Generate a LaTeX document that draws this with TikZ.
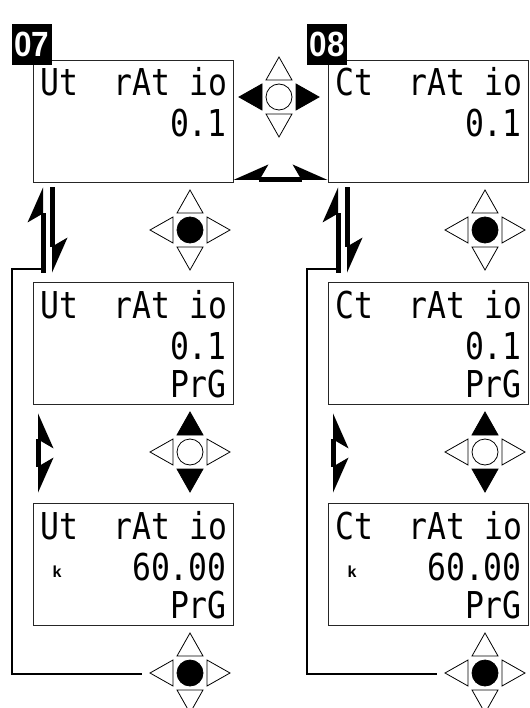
\documentclass[tikz,border=0pt]{standalone}
\usepackage{fontspec}
\setmainfont{Liberation Sans}
\newfontfamily\lcdfont[FakeStretch=0.85]{DejaVu Sans Mono}
\newfontfamily\tagfont[FakeStretch=0.9]{Liberation Sans}
\usetikzlibrary{arrows.meta}

% keypad: name, x, y, up/down fill, left/right fill, centre fill
\newcommand{\keypad}[6]{%
  \node[keyring, fill=#6] (#1) at (#2,#3) {};
  \draw[keytri, fill=#4] (#2-13,#3-17) -- (#2+13,#3-17) -- (#2,#3-40) -- cycle;
  \draw[keytri, fill=#4] (#2-13,#3+17) -- (#2+13,#3+17) -- (#2,#3+40) -- cycle;
  \draw[keytri, fill=#5] (#2-17,#3-13) -- (#2-17,#3+13) -- (#2-40,#3) -- cycle;
  \draw[keytri, fill=#5] (#2+17,#3-13) -- (#2+17,#3+13) -- (#2+40,#3) -- cycle;
}

\begin{document}
\begin{tikzpicture}[x=1pt, y=-1pt,
  display/.style={draw=black!85, line width=0.9pt, fill=white, minimum width=200pt, minimum height=122pt, inner sep=0pt},
  tag/.style={fill=black, text=white, font=\tagfont\bfseries\fontsize{35}{35}\selectfont, minimum width=40pt, minimum height=41pt, inner sep=0pt},
  lcd/.style={font=\lcdfont\fontsize{37}{37}\selectfont, inner sep=0pt},
  unit/.style={font=\bfseries\fontsize{16}{16}\selectfont, inner sep=0pt},
  keyring/.style={circle, draw, line width=0.8pt, minimum size=26pt, inner sep=0pt},
  keytri/.style={line width=0.8pt, line join=miter},
  wire/.style={line width=1.8pt},
  flow/.style={line width=5pt},
  barb/.tip={Stealth[harpoon, length=35pt, width=31pt, inset=9pt, line width=0pt]}]

  \fill[white] (0,0) rectangle (529,708);
  \useasboundingbox (0,0) rectangle (529,708);

  % left column: Ut ratio
  \node[display] (dispA1) at (133,121) {};
  \node[display] (dispA2) at (133,343) {};
  \node[display] (dispA3) at (133,564) {};
  \node[tag] (tagA) at (32,44.5) {07};

  \node[lcd, anchor=base west] (rowA11) at (40,96)  {\hbox to 187pt{Ut\hfil rAt io}};
  \node[lcd, anchor=base east] (rowA12) at (227,137) {0.1};
  \node[lcd, anchor=base west] (rowA21) at (40,318) {\hbox to 187pt{Ut\hfil rAt io}};
  \node[lcd, anchor=base east] (rowA22) at (227,359) {0.1};
  \node[lcd, anchor=base east] (rowA23) at (227,397) {PrG};
  \node[lcd, anchor=base west] (rowA31) at (40,539) {\hbox to 187pt{Ut\hfil rAt io}};
  \node[lcd, anchor=base east] (rowA32) at (227,580) {60.00};
  \node[lcd, anchor=base east] (rowA33) at (227,618) {PrG};
  \node[unit, anchor=base] (unitA) at (57,577) {k};

  % right column: Ct ratio
  \node[display] (dispB1) at (428,121) {};
  \node[display] (dispB2) at (428,343) {};
  \node[display] (dispB3) at (428,564) {};
  \node[tag] (tagB) at (327,44.5) {08};

  \node[lcd, anchor=base west] (rowB11) at (335,96)  {\hbox to 187pt{Ct\hfil rAt io}};
  \node[lcd, anchor=base east] (rowB12) at (522,137) {0.1};
  \node[lcd, anchor=base west] (rowB21) at (335,318) {\hbox to 187pt{Ct\hfil rAt io}};
  \node[lcd, anchor=base east] (rowB22) at (522,359) {0.1};
  \node[lcd, anchor=base east] (rowB23) at (522,397) {PrG};
  \node[lcd, anchor=base west] (rowB31) at (335,539) {\hbox to 187pt{Ct\hfil rAt io}};
  \node[lcd, anchor=base east] (rowB32) at (522,580) {60.00};
  \node[lcd, anchor=base east] (rowB33) at (522,618) {PrG};
  \node[unit, anchor=base] (unitB) at (352,577) {k};

  % keypads
  \keypad{keyT}{279}{97}{white}{black}{white}
  \keypad{keyA1}{190}{230}{white}{white}{black}
  \keypad{keyA2}{190}{452}{black}{white}{white}
  \keypad{keyA3}{190}{673}{white}{white}{black}
  \keypad{keyB1}{485}{230}{white}{white}{black}
  \keypad{keyB2}{485}{452}{black}{white}{white}
  \keypad{keyB3}{485}{673}{white}{white}{black}

  % arrows
  \draw[flow, {barb[swap]}-{barb}] ([yshift=2.5pt]dispA1.south east) -- ([yshift=2.5pt]dispB1.south west);

  \draw[flow, -{barb}] ([xshift=10.5pt, yshift=9pt]dispA2.north west) -- ([xshift=10.5pt, yshift=-5pt]dispA1.south west);
  \draw[flow, -{barb}] ([xshift=19.5pt, yshift=-5pt]dispA1.south west) -- ([xshift=19.5pt, yshift=9pt]dispA2.north west);
  \draw[flow, {barb}-{barb[swap]}] ([xshift=5.5pt, yshift=10pt]dispA3.north west) -- ([xshift=5.5pt, yshift=-9pt]dispA2.south west);

  \draw[flow, -{barb}] ([xshift=10.5pt, yshift=9pt]dispB2.north west) -- ([xshift=10.5pt, yshift=-5pt]dispB1.south west);
  \draw[flow, -{barb}] ([xshift=19.5pt, yshift=-5pt]dispB1.south west) -- ([xshift=19.5pt, yshift=9pt]dispB2.north west);
  \draw[flow, {barb}-{barb[swap]}] ([xshift=5.5pt, yshift=10pt]dispB3.north west) -- ([xshift=5.5pt, yshift=-9pt]dispB2.south west);

  % return lines to the lower keypads
  \coordinate (tapA) at (41,269);
  \coordinate (tapB) at (336,269);
  \draw[wire, shorten >=35pt] (tapA) -- ++(-29,0) |- ([yshift=-1pt]keyA3.west);
  \draw[wire, shorten >=35pt] (tapB) -- ++(-29,0) |- ([yshift=-1pt]keyB3.west);
\end{tikzpicture}
\end{document}
